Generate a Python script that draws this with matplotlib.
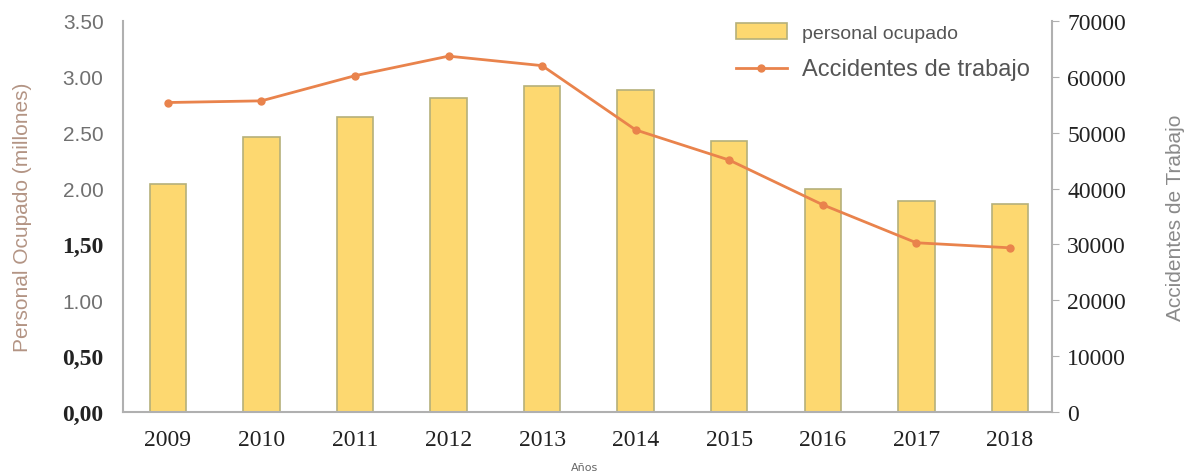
import matplotlib.pyplot as plt
import numpy as np

# ── DATA ──────────────────────────────────────────────────────────────────────
YEARS      = ["2009", "2010", "2011", "2012", "2013", "2014", "2015", "2016", "2017", "2018"]
PERSONAL   = [2.04, 2.46, 2.64, 2.81, 2.92, 2.88, 2.43, 2.00, 1.89, 1.86]
ACCIDENTES = [55400, 55700, 60200, 63700, 62000, 50500, 45100, 37100, 30300, 29400]

LEFT_TICKS  = [0.0, 0.5, 1.0, 1.5, 2.0, 2.5, 3.0, 3.5]
LEFT_LABELS = ["0,00", "0,50", "1.00", "1,50", "2.00", "2.50", "3.00", "3.50"]
LEFT_SERIF  = [True, True, False, True, False, False, False, False]
RIGHT_TICKS = [0, 10000, 20000, 30000, 40000, 50000, 60000, 70000]

BAR_COLOR  = "#FDD870"
BAR_EDGE   = "#B5B07A"
LINE_COLOR = "#E9834C"
SPINE      = "#B0B0B0"

# ── PLOT ──────────────────────────────────────────────────────────────────────
fig = plt.figure(figsize=(11.86, 4.77), dpi=100)
ax1 = fig.add_axes([0.1037, 0.134, 0.7833, 0.82])
ax2 = ax1.twinx()

x = np.arange(len(YEARS))
b = ax1.bar(x, PERSONAL, width=0.39, color=BAR_COLOR, edgecolor=BAR_EDGE,
            linewidth=1.2, label="personal ocupado", zorder=2)
l, = ax2.plot(x, ACCIDENTES, color=LINE_COLOR, linewidth=2, marker="o",
              markersize=5, label="Accidentes de trabajo", zorder=3)

ax1.set_xlim(-0.48, 9.45)
ax1.set_ylim(0, 3.5)
ax2.set_ylim(0, 70000)

ax1.set_xticks(x)
ax1.set_xticklabels(YEARS, fontfamily="Liberation Serif", fontsize=17,
                    color="#222222")
ax1.tick_params(axis="x", length=0, pad=12)

ax1.set_yticks(LEFT_TICKS)
ax1.set_yticklabels(LEFT_LABELS)
for lab, serif in zip(ax1.get_yticklabels(), LEFT_SERIF):
    if serif:
        lab.set_fontfamily("Liberation Serif")
        lab.set_fontweight("bold")
        lab.set_fontsize(17)
        lab.set_color("#222222")
    else:
        lab.set_fontfamily("Liberation Sans")
        lab.set_fontsize(15)
        lab.set_color("#707070")
ax1.tick_params(axis="y", length=0, pad=14)

ax2.set_yticks(RIGHT_TICKS)
ax2.set_yticklabels([str(v) for v in RIGHT_TICKS], fontfamily="Liberation Serif",
                    fontsize=17, color="#222222")
ax2.tick_params(axis="y", length=5, color=SPINE, pad=6)

for ax in (ax1, ax2):
    ax.spines["top"].set_visible(False)
    for s in ("left", "right", "bottom"):
        ax.spines[s].set_color(SPINE)
        ax.spines[s].set_linewidth(1.5)
ax2.spines["left"].set_visible(False)
ax2.spines["bottom"].set_visible(False)
ax1.spines["right"].set_visible(False)

ax1.set_ylabel("Personal Ocupado (millones)", fontfamily="Liberation Sans",
               fontsize=15, color="#B39484", labelpad=22)
ax2.set_ylabel("Accidentes de Trabajo", fontfamily="Liberation Sans",
               fontsize=15, color="#8A8A8A", labelpad=29)

fig.text(0.493, 0.012, "Años", fontsize=8, color="#666666", ha="center")

leg = ax1.legend([b, l], ["personal ocupado", "Accidentes de trabajo"],
                 loc="upper left", bbox_to_anchor=(0.641, 1.04), frameon=False,
                 handlelength=2.6, handleheight=0.9, labelspacing=0.85,
                 prop={"family": "Liberation Sans", "size": 14})
leg.get_texts()[0].set_color("#555555")
leg.get_texts()[1].set_color("#555555")
leg.get_texts()[1].set_fontsize(17)

fig.savefig("out.png", dpi=100)
